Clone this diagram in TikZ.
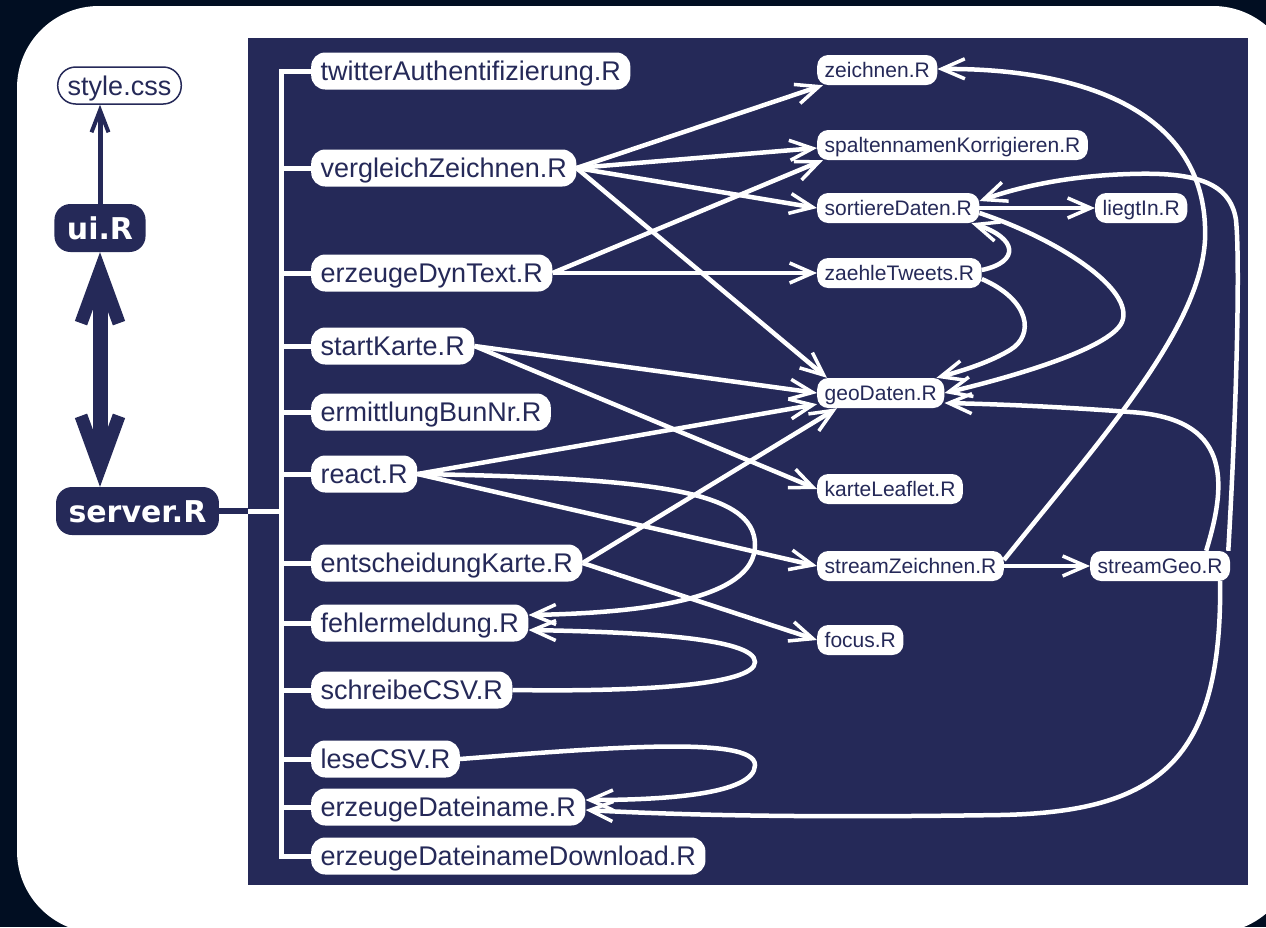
\documentclass[tikz,border=0pt]{standalone}
\usepackage{fontspec}
\setmainfont{Liberation Sans}
\newfontfamily\djv{DejaVu Sans}
\usetikzlibrary{arrows.meta}
\definecolor{navy}{RGB}{37,41,88}
\definecolor{bgdark}{RGB}{1,14,34}
\begin{document}
\begin{tikzpicture}[x=1pt,y=-1pt,
  lnode/.style={fill=white, rounded corners=14pt, minimum height=37pt, inner xsep=9.5pt, inner ysep=0pt,
    text=navy, font=\fontsize{27pt}{32pt}\selectfont, text height=21pt, text depth=2pt, anchor=west},
  rnode/.style={fill=white, rounded corners=11pt, minimum height=30pt, inner xsep=7.5pt, inner ysep=0pt,
    text=navy, font=\fontsize{21pt}{25pt}\selectfont, text height=16.5pt, text depth=1.5pt, anchor=west},
  darknode/.style={fill=navy, rounded corners=16pt, minimum height=48pt, inner xsep=12.5pt, inner ysep=0pt,
    text=white, font=\djv\bfseries\fontsize{30pt}{36pt}\selectfont, text height=23pt, text depth=1pt},
  edge/.style={white, line width=4.5pt, -{Straight Barb[sharp,length=23pt,width=20pt,line width=3.5pt]}},
  busline/.style={white, line width=5pt},
]
\useasboundingbox (0,0) rectangle (1266,927);
\fill[bgdark] (0,0) rectangle (1266,927);
\fill[white, rounded corners=82pt] (17,6) rectangle (1295,933);
\node[fill=navy, minimum width=1000pt, minimum height=847pt, inner sep=0pt, anchor=north west] (panel) at (248,38) {};

% left column
\node[fill=white, draw=navy, line width=1.5pt, rounded corners=18pt, minimum height=37pt, inner xsep=10pt, inner ysep=0pt,
  text=navy, font=\fontsize{27pt}{32pt}\selectfont, text height=21pt, text depth=2pt] (css) at (119.5,85.5) {style.css};
\node[darknode] (ui) at (100,228) {ui.R};
\node[darknode] (srv) at (137.5,511) {server.R};

% left nodes in panel
\node[lnode] (ta) at (311,71) {twitterAuthentifizierung.R};
\node[lnode] (vz) at (311,168) {vergleichZeichnen.R};
\node[lnode] (edt) at (311,273) {erzeugeDynText.R};
\node[lnode] (sk) at (311,346) {startKarte.R};
\node[lnode] (eb) at (311,412) {ermittlungBunNr.R};
\node[lnode] (re) at (311,474) {react.R};
\node[lnode] (ek) at (311,563) {entscheidungKarte.R};
\node[lnode] (fm) at (311,623) {fehlermeldung.R};
\node[lnode] (sc) at (311,690) {schreibeCSV.R};
\node[lnode] (lc) at (311,759) {leseCSV.R};
\node[lnode] (ed) at (311,807) {erzeugeDateiname.R};
\node[lnode] (edd) at (311,856) {erzeugeDateinameDownload.R};

% right nodes
\node[rnode] (zn) at (817,70) {zeichnen.R};
\node[rnode] (skk) at (817,145) {spaltennamenKorrigieren.R};
\node[rnode] (sd) at (817,208) {sortiereDaten.R};
\node[rnode] (li) at (1095,208) {liegtIn.R};
\node[rnode] (zt) at (817,273) {zaehleTweets.R};
\node[rnode] (gd) at (817,393) {geoDaten.R};
\node[rnode] (kl) at (817,489) {karteLeaflet.R};
\node[rnode] (szz) at (817,566) {streamZeichnen.R};
\node[rnode] (sg) at (1090,566) {streamGeo.R};
\node[rnode] (fo) at (817,640) {focus.R};

% left column arrows
\draw[navy, line width=5pt, -{Straight Barb[sharp,length=22pt,width=17pt,line width=4pt]}] (ui.north) -- (ui.north |- css.south);
\draw[navy, line width=15pt, {Straight Barb[sharp,length=52pt,width=38pt,line width=13pt]}-{Straight Barb[sharp,length=52pt,width=38pt,line width=13pt]}] (ui.south) -- (ui.south |- srv.north);

% bus
\coordinate (busx) at (281,0);
\draw[busline] (ta.west) -- (ta.west -| busx) -- (edd.west -| busx) -- (edd.west);
\foreach \n in {vz,edt,sk,eb,re,ek,fm,sc,lc,ed} \draw[busline] (\n.west) -- (\n.west -| busx);
\draw[busline] (srv.east) -- (srv.east -| busx);
\draw[navy, line width=6pt] (srv.east) -- (srv.east -| panel.west);

% straight edges
\draw[edge] (vz.east) -- ([xshift=6pt]zn.south west);
\draw[edge] (vz.east) -- ([yshift=-3pt]skk.west);
\draw[edge] (vz.east) -- (sd.west);
\draw[edge] (vz.east) -- ([xshift=10pt]gd.north west);
\draw[edge] (edt.east) -- ([xshift=6pt]skk.south west);
\draw[edge] (edt.east) -- (zt.west);
\draw[edge] (sk.east) -- (gd.west);
\draw[edge] (sk.east) -- (kl.west);
\draw[edge] (re.east) -- ([yshift=4pt]gd.south west);
\draw[edge] (re.east) -- (szz.west);
\draw[edge] (ek.east) -- ([xshift=20pt]gd.south west);
\draw[edge] (ek.east) -- (fo.west);
\draw[edge] (sd.east) -- (li.west);
\draw[edge] (szz.east) -- (sg.west);

% curved edges
\draw[edge] (re.east) .. controls (650,478) and (755,490) .. (755,545) .. controls (755,600) and (640,613) .. ([yshift=8pt]fm.east);
\draw[edge] (sc.east) .. controls (640,692) and (755,685) .. (755,662) .. controls (755,638) and (640,632) .. ([yshift=-7pt]fm.east);
\draw[edge] (lc.east) .. controls (600,748) and (755,735) .. (755,765) .. controls (755,795) and (660,800) .. ([yshift=7pt]ed.east);
\draw[edge] ([xshift=60pt]sg.south) .. controls (1222,760) and (1160,812) .. (1000,815) .. controls (800,818) and (680,815) .. ([yshift=-3pt]ed.east);
\draw[edge] ([xshift=-2pt]sg.north east) .. controls (1237,400) and (1240,260) .. (1236,220) .. controls (1230,180) and (1190,172) .. (1130,174) .. controls (1060,176) and (1010,190) .. ([yshift=7pt]sd.east);
\draw[edge] ([yshift=-5pt]sd.east) .. controls (1060,240) and (1135,290) .. (1122,322) .. controls (1110,350) and (1000,380) .. (gd.east);
\draw[edge] ([yshift=-6pt]zt.east) .. controls (1030,300) and (1035,335) .. (1010,350) .. controls (990,362) and (965,370) .. ([xshift=-8pt]gd.north east);
\draw[edge] ([yshift=3pt]zt.east) .. controls (1020,262) and (1018,238) .. ([xshift=-8pt]sd.south east);
\draw[edge] ([yshift=6pt]szz.east) .. controls (1100,440) and (1200,330) .. (1205,240) .. controls (1210,110) and (1080,68) .. ([yshift=1pt]zn.east);
\draw[edge] ([xshift=46pt]sg.north) .. controls (1228,480) and (1230,418) .. (1130,412) .. controls (1050,406) and (990,404) .. ([yshift=-10pt]gd.east);
\end{tikzpicture}
\end{document}
